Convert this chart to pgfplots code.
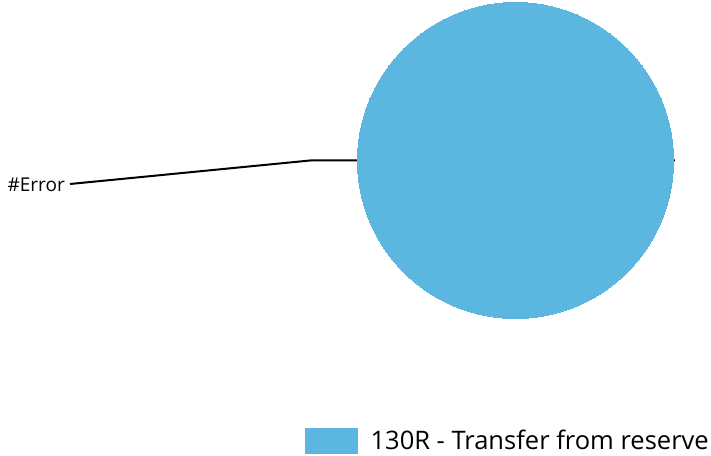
\documentclass[border=0pt]{standalone}
\usepackage{fontspec}
\setmainfont{Open Sans}
\usepackage{pgfplots}
\pgfplotsset{compat=1.18}
\definecolor{piecol}{RGB}{91,183,224}
\begin{document}
\begin{tikzpicture}
\begin{axis}[
  width=711pt, height=455pt, scale only axis,
  xmin=0, xmax=711, ymin=0, ymax=455,
  axis lines=none, clip=false,
  legend style={at={(axis cs:305,14.5)}, anchor=west, draw=none, fill=none,
    inner sep=0pt, font=\fontsize{25.5}{28}\selectfont,
    nodes={inner sep=0pt, anchor=west}, column sep=0pt},
  legend cell align=left,
]
\path (rel axis cs:0,0) rectangle (rel axis cs:1,1);
% leader line for the label
\addplot[black, line width=2pt, forget plot] coordinates {(70,271) (310,294.5) (675,294.5)};
% single pie slice (100%)
\addplot[piecol, only marks, mark=*, mark size=158pt, mark options={fill=piecol, draw=piecol, line width=0pt},
  legend image code/.code={\fill[piecol] (0pt,-12.5pt) rectangle (52pt,12.5pt); \path (65pt,0pt);}]
  coordinates {(515.5,294.5)};
\addlegendentry{130R - Transfer from reserve}
\node[anchor=east, font=\fontsize{19}{22}\selectfont, inner sep=0pt] at (axis cs:65,270.5) {\#Error};
\end{axis}
\end{tikzpicture}
\end{document}
